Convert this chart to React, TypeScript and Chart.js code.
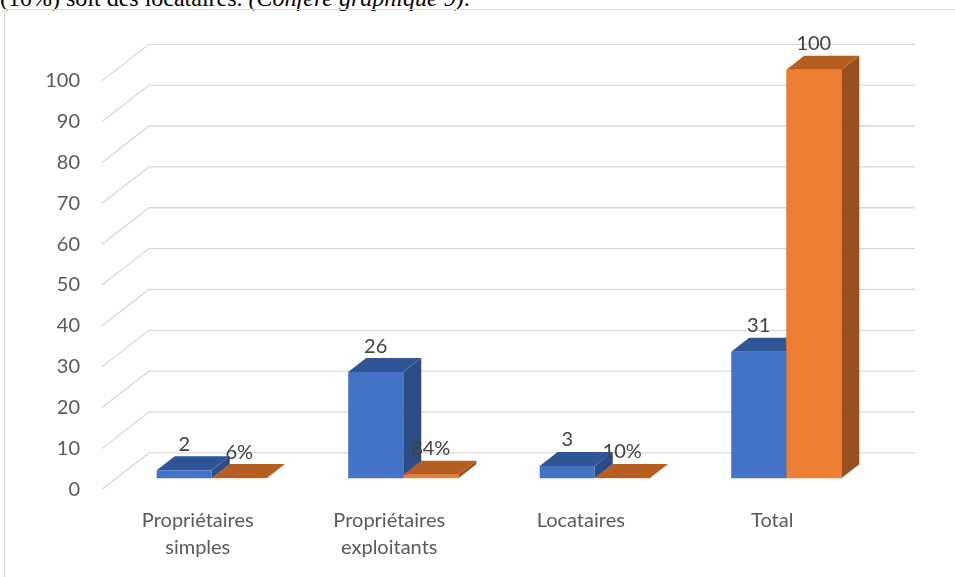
import React, { useEffect, useRef } from 'react';
import { Chart, registerables } from 'chart.js';

Chart.register(...registerables);

// ---- data ----
const categories = [
  ['Propriétaires', 'simples'],
  ['Propriétaires', 'exploitants'],
  ['Locataires'],
  ['Total'],
];
const blueValues = [2, 26, 3, 31];
const orangeValues = [0.06, 0.84, 0.1, 100];
const blueLabels = ['2', '26', '3', '31'];
const orangeLabels = ['6%', '84%', '10%', '100'];
const yMin = 0;
const yMax = 100;
const yStep = 10;

// ---- style ----
const FONT = 'Lato, "Open Sans", sans-serif';
const GX = 47; // floor depth (x)
const GY = -36.4; // floor depth (y)
const BDX = 14; // bar front plane offset
const BDY = -11;
const BX = 18; // bar depth
const BY = -14;

const faceColors = [
  { front: '#4472C4', top: '#2F5597', side: '#2C4C86' },
  { front: '#ED7D31', top: '#B65E22', side: '#9A501C' },
];

const poly = (ctx: CanvasRenderingContext2D, pts: number[][]) => {
  ctx.beginPath();
  ctx.moveTo(pts[0][0], pts[0][1]);
  for (let i = 1; i < pts.length; i++) ctx.lineTo(pts[i][0], pts[i][1]);
  ctx.closePath();
  ctx.fill();
};

const threeD = {
  id: 'threeD',
  beforeDatasetsDraw(chart: any) {
    const { ctx, chartArea, scales } = chart;
    const ys = scales.y;
    ctx.save();
    ctx.strokeStyle = '#D9D9D9';
    ctx.lineWidth = 1.3;
    ys.ticks.forEach((t: any) => {
      const py = ys.getPixelForValue(t.value);
      ctx.beginPath();
      ctx.moveTo(chartArea.left, py);
      ctx.lineTo(chartArea.left + GX, py + GY);
      ctx.lineTo(chartArea.right + GX, py + GY);
      ctx.stroke();
    });
    chart.data.datasets.forEach((ds: any, di: number) => {
      const meta = chart.getDatasetMeta(di);
      const c = faceColors[di];
      meta.data.forEach((el: any) => {
        const { x, y, base, width } = el.getProps(['x', 'y', 'base', 'width'], true);
        const l = x - width / 2 + BDX;
        const r = x + width / 2 + BDX;
        const t = y + BDY;
        const b = base + BDY;
        ctx.fillStyle = c.side;
        poly(ctx, [[r, t], [r + BX, t + BY], [r + BX, b + BY], [r, b]]);
        ctx.fillStyle = c.top;
        poly(ctx, [[l, t], [r, t], [r + BX, t + BY], [l + BX, t + BY]]);
      });
    });
    ctx.restore();
    ctx.save();
    ctx.translate(BDX, BDY);
  },
  afterDatasetsDraw(chart: any) {
    const { ctx } = chart;
    ctx.restore();
    ctx.save();
    ctx.font = `20px ${FONT}`;
    ctx.fillStyle = '#404040';
    ctx.textAlign = 'center';
    ctx.textBaseline = 'middle';
    const labelSets = [blueLabels, orangeLabels];
    chart.data.datasets.forEach((_ds: any, di: number) => {
      const meta = chart.getDatasetMeta(di);
      meta.data.forEach((el: any, i: number) => {
        const { x, y } = el.getProps(['x', 'y'], true);
        ctx.fillText(labelSets[di][i], x + BDX, y + BDY + BY - 12);
      });
    });
    ctx.restore();
  },
};

export default function App() {
  const ref = useRef<HTMLCanvasElement>(null);

  useEffect(() => {
    if (!ref.current) return;
    const chart = new Chart(ref.current, {
      type: 'bar',
      data: {
        labels: categories,
        datasets: [
          {
            label: 'Effectif',
            data: blueValues,
            backgroundColor: faceColors[0].front,
            categoryPercentage: 0.575,
            barPercentage: 1,
            clip: false,
          } as any,
          {
            label: 'Pourcentage',
            data: orangeValues,
            backgroundColor: faceColors[1].front,
            categoryPercentage: 0.575,
            barPercentage: 1,
            clip: false,
          } as any,
        ],
      },
      options: {
        responsive: false,
        animation: false,
        devicePixelRatio: 1,
        layout: { padding: { left: 0, right: 87, top: 80.7, bottom: 0 } },
        plugins: {
          legend: { display: false },
          tooltip: { enabled: false },
          title: { display: false },
        },
        scales: {
          x: {
            grid: { display: false, drawTicks: false },
            border: { display: false },
            ticks: {
              color: '#595959',
              font: { family: FONT, size: 20, lineHeight: 1.35 },
              padding: 18,
              maxRotation: 0,
              autoSkip: false,
            },
            afterFit: (s: any) => {
              s.height = 577 - 489.3;
            },
          },
          y: {
            min: yMin,
            max: yMax,
            grid: { display: false, drawTicks: false },
            border: { display: false },
            ticks: {
              stepSize: yStep,
              color: '#595959',
              font: { family: FONT, size: 20 },
              padding: 22,
            },
            afterFit: (s: any) => {
              s.width = 102;
            },
          },
        },
      } as any,
      plugins: [threeD],
    });
    return () => chart.destroy();
  }, []);

  return (
    <div
      style={{
        position: 'fixed',
        left: 0,
        top: 0,
        width: 955,
        height: 577,
        overflow: 'hidden',
        background: '#ffffff',
      }}
    >
      <div
        style={{
          position: 'absolute',
          left: 0,
          top: -14.1,
          whiteSpace: 'nowrap',
          fontFamily: '"Liberation Serif", "Times New Roman", serif',
          fontSize: 24,
          lineHeight: '24px',
          color: '#000',
        }}
      >
        (10%) soit des locataires. <i>(Confère graphique 9)</i>.
      </div>
      <div
        style={{
          position: 'absolute',
          left: 4,
          top: 9,
          width: 1000,
          height: 700,
          border: '1px solid #D9D9D9',
          boxSizing: 'border-box',
        }}
      />
      <canvas
        ref={ref}
        width={955}
        height={577}
        style={{ position: 'absolute', left: 0, top: 0, width: 955, height: 577 }}
      />
    </div>
  );
}
